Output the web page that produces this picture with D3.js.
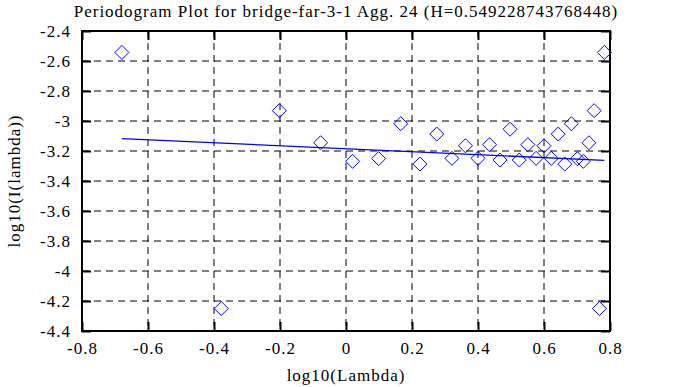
<!DOCTYPE html>
<html>
<head>
<meta charset="utf-8">
<script src="https://cdn.jsdelivr.net/npm/d3@7"></script>
<style>
  body { margin: 0; background: #fff; }
  svg text { font-family: "Liberation Serif", "DejaVu Serif", serif; fill: #000; letter-spacing: 1px; }
</style>
</head>
<body>
<div id="chart"></div>
<script>
// log10 of frequency (k = 1..29)
var logLambda = [-0.679, -0.378, -0.202, -0.077, 0.020, 0.099, 0.166, 0.224, 0.275,
    0.321, 0.362, 0.400, 0.435, 0.467, 0.497, 0.525, 0.551, 0.576, 0.600,
    0.622, 0.643, 0.663, 0.683, 0.701, 0.719, 0.736, 0.752, 0.768, 0.783];
// log10 of periodogram
var logI = [-2.543, -4.250, -2.931, -3.145, -3.269, -3.251, -3.018, -3.287, -3.087,
    -3.249, -3.165, -3.249, -3.158, -3.260, -3.055, -3.260, -3.158, -3.249, -3.165,
    -3.249, -3.087, -3.287, -3.018, -3.251, -3.269, -3.145, -2.931, -4.250, -2.543];
// fitted line  y = fitIntercept + fitSlope * x
var fitSlope = -0.098457,
    fitIntercept = -3.185;
var xTicks = [-0.8, -0.6, -0.4, -0.2, 0, 0.2, 0.4, 0.6, 0.8];
var yTicks = [-2.4, -2.6, -2.8, -3, -3.2, -3.4, -3.6, -3.8, -4, -4.2, -4.4];
var title = 'Periodogram Plot for bridge-far-3-1 Agg. 24 (H=0.549228743768448)';

var svgWidth = 678,
    svgHeight = 387;
var plotLeft = 82, plotRight = 610, plotTop = 31, plotBottom = 331;
var tickLen = 9;
var fontSize = '17px';

var svg = d3.select('#chart')
    .append('svg')
    .attr('width', svgWidth)
    .attr('height', svgHeight);

var x = d3.scaleLinear().domain([-0.8, 0.8]).range([plotLeft, plotRight]);
var y = d3.scaleLinear().domain([-4.4, -2.4]).range([plotBottom, plotTop]);

// 网格线
var grid = svg.append('g').attr('class', 'grid');
grid.selectAll('line.gx')
    .data(xTicks.slice(1, -1))
    .enter()
    .append('line')
    .attr('x1', function(d) { return x(d); })
    .attr('x2', function(d) { return x(d); })
    .attr('y1', plotTop)
    .attr('y2', plotBottom)
    .style('stroke', '#000')
    .style('stroke-dasharray', '7,5');
grid.selectAll('line.gy')
    .data(yTicks.slice(1, -1))
    .enter()
    .append('line')
    .attr('x1', plotLeft)
    .attr('x2', plotRight)
    .attr('y1', function(d) { return y(d); })
    .attr('y2', function(d) { return y(d); })
    .style('stroke', '#000')
    .style('stroke-dasharray', '7,5');

// 坐标轴
var fmt = function(d) { return d === 0 ? '0' : String(d); };
var axisStyle = function(g) {
    g.attr('font-family', null).attr('font-size', null);
    g.select('.domain').remove();
    g.selectAll('.tick line').style('stroke', '#000').style('stroke-width', 2);
    g.selectAll('.tick text')
        .style('font-family', '"Liberation Serif", serif')
        .style('font-size', fontSize);
};
svg.append('g')
    .attr('transform', 'translate(0,' + plotBottom + ')')
    .call(d3.axisBottom(x).tickValues(xTicks).tickFormat(fmt).tickSize(-tickLen).tickPadding(11))
    .call(axisStyle);
svg.append('g')
    .attr('transform', 'translate(0,' + plotTop + ')')
    .call(d3.axisTop(x).tickValues(xTicks).tickFormat('').tickSize(-tickLen))
    .call(axisStyle);
svg.append('g')
    .attr('transform', 'translate(' + plotLeft + ',0)')
    .call(d3.axisLeft(y).tickValues(yTicks).tickFormat(fmt).tickSize(-tickLen).tickPadding(11))
    .call(axisStyle);
svg.append('g')
    .attr('transform', 'translate(' + plotRight + ',0)')
    .call(d3.axisRight(y).tickValues(yTicks).tickFormat('').tickSize(-tickLen))
    .call(axisStyle);

// 边框
svg.append('rect')
    .attr('x', plotLeft)
    .attr('y', plotTop)
    .attr('width', plotRight - plotLeft)
    .attr('height', plotBottom - plotTop)
    .style('fill', 'none')
    .style('stroke', '#000')
    .style('stroke-width', 2);

// 拟合线
var x0 = logLambda[0], x1 = logLambda[logLambda.length - 1];
svg.append('line')
    .attr('x1', x(x0))
    .attr('y1', y(fitIntercept + fitSlope * x0))
    .attr('x2', x(x1))
    .attr('y2', y(fitIntercept + fitSlope * x1))
    .style('stroke', '#0000ff')
    .style('stroke-width', 1.3);

// 数据点 (菱形)
svg.append('g')
    .selectAll('path')
    .data(logLambda)
    .enter()
    .append('path')
    .attr('d', function(d, i) {
        var cx = x(d), cy = y(logI[i]), r = 7;
        return 'M' + cx + ',' + (cy - r) + 'L' + (cx + r) + ',' + cy +
            'L' + cx + ',' + (cy + r) + 'L' + (cx - r) + ',' + cy + 'Z';
    })
    .style('fill', 'none')
    .style('stroke', '#0000ff')
    .style('stroke-width', 1);

// 标题与轴标题
svg.append('text')
    .attr('x', (plotLeft + plotRight) / 2)
    .attr('y', 17)
    .attr('text-anchor', 'middle')
    .style('font-size', fontSize)
    .text(title);
svg.append('text')
    .attr('x', (plotLeft + plotRight) / 2)
    .attr('y', 381)
    .attr('text-anchor', 'middle')
    .style('font-size', fontSize)
    .text('log10(Lambda)');
svg.append('text')
    .attr('transform', 'translate(20,' + ((plotTop + plotBottom) / 2) + ') rotate(-90)')
    .attr('text-anchor', 'middle')
    .style('font-size', fontSize)
    .text('log10(I(lambda))');
</script>
</body>
</html>
